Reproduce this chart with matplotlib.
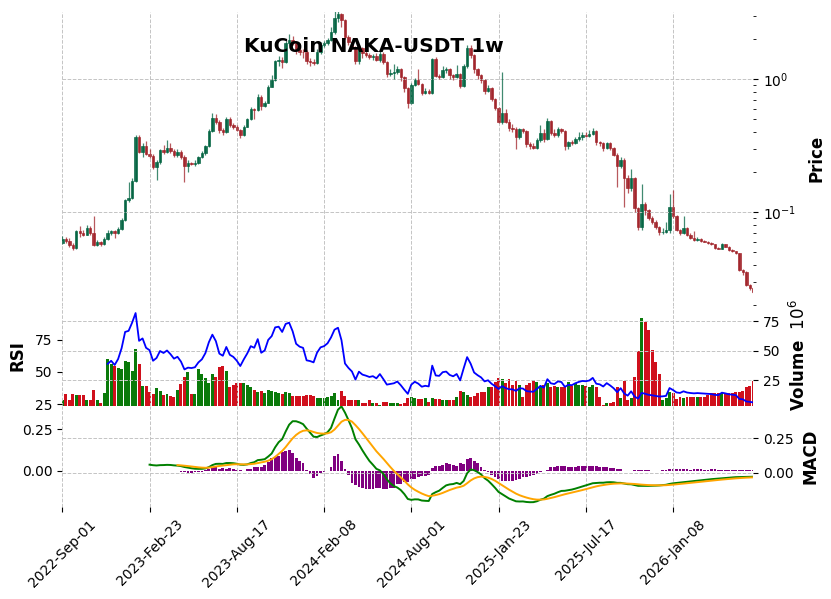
import numpy as np
import pandas as pd
import matplotlib
matplotlib.use("Agg")
from matplotlib import pyplot as plt
from matplotlib.ticker import LogLocator, NullFormatter

TITLE = "KuCoin NAKA-USDT 1w"
START = "2022-09-01"

# weekly candles (open of each week = previous close)
first_open = 0.0591
closes = [
    .0627, .0605, .0568, .0537, .0723, .0696, .0679, .0765, .0696, .0568,
    .0595, .0578, .0627, .0696, .0723, .0696, .0749, .0875, .124, .128,
    .172, .370, .285, .312, .275, .265, .217, .237, .294, .285,
    .306, .290, .270, .283, .262, .224, .234, .232, .236, .261,
    .278, .316, .409, .509, .480, .416, .404, .500, .453, .440,
    .416, .381, .440, .503, .598, .588, .732, .630, .667, .880,
    .988, 1.36, 1.40, 1.345, 1.86, 1.98, 1.86, 1.66, 1.61, 1.59,
    1.36, 1.345, 1.32, 1.61, 1.81, 1.86, 1.98, 2.28, 2.87, 3.07,
    2.79, 2.07, 1.89, 1.74, 1.36, 1.71, 1.57, 1.52, 1.46, 1.49,
    1.40, 1.55, 1.345, 1.10, 1.12, 1.14, 1.19, 1.045, .855, .661,
    .906, .988, .917, .794, .817, .794, 1.41, 1.06, 1.045, 1.17,
    1.19, 1.08, 1.035, 1.10, .895, 1.26, 1.73, 1.52, 1.19, 1.08,
    .988, .820, .855, .710, .605, .480, .555, .480, .427, .425,
    .365, .420, .409, .327, .312, .306, .350, .397, .355, .488,
    .397, .381, .420, .409, .312, .338, .332, .355, .370, .381,
    .377, .384, .409, .338, .330, .303, .330, .303, .270, .221,
    .249, .182, .151, .180, .107, .0777, .115, .104, .0902, .0850,
    .0777, .0706, .0716, .0736, .109, .0932, .0736, .0696, .0760, .0675,
    .0640, .0619, .0627, .0612, .0602, .0586, .0576, .0538, .0532, .0578,
    .0552, .0521, .0507, .0493, .0368, .0357, .0284, .0271, .0252,
]
highs = [
    .0664, .0650, .0640, .0590, .0740, .0790, .0730, .0800, .0790, .0944,
    .0620, .0610, .0650, .0740, .0740, .0740, .0770, .0900, .126, .169,
    .180, .381, .381, .330, .345, .300, .275, .245, .300, .320,
    .350, .330, .300, .300, .295, .270, .245, .240, .245, .265,
    .290, .320, .420, .560, .550, .490, .430, .520, .520, .465,
    .450, .425, .450, .510, .620, .610, .780, .760, .680, .900,
    1.08, 1.39, 1.50, 1.47, 1.95, 2.19, 2.10, 1.95, 1.75, 1.70,
    1.65, 1.45, 1.42, 1.70, 1.90, 1.95, 2.05, 2.45, 3.30, 3.25,
    3.17, 2.85, 2.15, 1.95, 1.78, 1.80, 1.75, 1.62, 1.58, 1.55,
    1.58, 1.62, 1.60, 1.36, 1.20, 1.30, 1.25, 1.22, 1.06, .870,
    .940, 1.02, 1.19, .930, .860, .850, 1.45, 1.48, 1.10, 1.25,
    1.24, 1.22, 1.10, 1.28, 1.12, 1.30, 1.80, 1.80, 1.55, 1.22,
    1.10, 1.00, .900, .870, .720, .620, 1.14, .600, .500, .460,
    .440, .430, .430, .415, .340, .330, .360, .450, .420, .510,
    .490, .420, .440, .430, .415, .345, .350, .370, .400, .400,
    .400, .415, .430, .415, .345, .340, .340, .340, .310, .280,
    .260, .255, .190, .210, .185, .110, .163, .120, .106, .0930,
    .0870, .0790, .0760, .0850, .138, .146, .0950, .0750, .0935, .0780,
    .0700, .0720, .0650, .0640, .0620, .0610, .0595, .0580, .0545, .0585,
    .0580, .0555, .0525, .0515, .0495, .0375, .0360, .0290, .0275,
]
lows = [
    .0578, .0590, .0550, .0520, .0530, .0650, .0660, .0670, .0680, .0555,
    .0560, .0560, .0570, .0620, .0680, .0640, .0690, .0740, .0860, .120,
    .126, .170, .280, .260, .270, .255, .210, .175, .230, .275,
    .280, .280, .260, .262, .250, .170, .200, .226, .222, .230,
    .255, .270, .310, .400, .460, .395, .380, .395, .440, .420,
    .405, .360, .375, .435, .490, .500, .580, .590, .620, .660,
    .870, .975, 1.25, 1.21, 1.33, 1.80, 1.80, 1.55, 1.52, 1.45,
    1.30, 1.25, 1.28, 1.30, 1.55, 1.75, 1.80, 1.95, 2.20, 2.70,
    2.45, 2.00, 1.80, 1.70, 1.30, 1.30, 1.45, 1.48, 1.42, 1.40,
    1.36, 1.35, 1.30, 1.03, 1.05, 1.00, 1.10, .970, .800, .610,
    .650, .890, .900, .760, .770, .770, .780, 1.03, 1.00, 1.02,
    1.12, 1.00, .980, 1.02, .860, .880, 1.22, 1.45, 1.12, 1.00,
    .930, .780, .800, .680, .590, .470, .460, .465, .410, .400,
    .300, .355, .395, .310, .300, .300, .300, .340, .340, .350,
    .380, .370, .370, .395, .295, .300, .320, .325, .345, .350,
    .370, .370, .380, .320, .315, .290, .300, .295, .265, .156,
    .215, .110, .140, .145, .100, .0740, .0736, .0950, .0870, .0820,
    .0750, .0680, .0690, .0700, .0698, .0900, .0720, .0680, .0690, .0660,
    .0630, .0610, .0610, .0600, .0595, .0580, .0570, .0530, .0525, .0525,
    .0545, .0515, .0500, .0485, .0360, .0340, .0280, .0262, .0245,
]
# volume in millions
volumes = [
    8.3, 13, 8, 13, 12.3, 12.3, 12.3, 8.3, 8.3, 17,
    8.3, 5.4, 14, 43, 39, 37, 35, 34, 41, 40,
    33, 51.4, 39, 20.2, 20.2, 15.3, 13, 18, 15.9, 12.3,
    13, 11.5, 10.6, 17, 21.4, 27.4, 32, 13, 13, 34,
    29.8, 27, 22.7, 30.6, 27.4, 36.3, 37, 33, 19, 20.8,
    22.2, 22.2, 22.2, 20.8, 19, 17, 15.3, 16, 14.4, 16.5,
    16, 15.3, 14, 13.4, 15.3, 14.4, 11.8, 11.8, 11.8, 11.8,
    12.3, 12.3, 11.5, 9.5, 9.5, 9.5, 10.8, 11.5, 14.4, 8.3,
    16, 11.5, 8.3, 8.3, 8, 8, 5.6, 5.6, 8.3, 5.4,
    5.4, 4.2, 6.8, 6.8, 5.4, 5.6, 5.4, 4.9, 5.4, 9.5,
    10.3, 9.5, 8.6, 8.6, 9.5, 6.8, 9.5, 9.0, 9.0, 8.1,
    8.1, 8.1, 8.1, 10.3, 16, 15.3, 12.3, 10.8, 11.5, 14.4,
    15.3, 15.3, 19, 19, 23, 26.7, 26.2, 22.2, 25.6, 20.8,
    24.2, 20.8, 10.3, 20.8, 22.7, 25, 23.3, 19, 20.8, 22.2,
    19, 20.2, 19.5, 19.5, 19.5, 23.3, 20.2, 22.2, 20.8, 20.8,
    20.2, 19.5, 20.8, 19.5, 10.8, 3.9, 5.4, 6, 6.8, 19,
    9.5, 24.2, 8.3, 9.5, 27.4, 49.5, 78, 74.3, 67.8, 50.3,
    40.5, 30.6, 8, 9.5, 15.3, 14.4, 8.6, 10.8, 9.5, 10.3,
    10.3, 10.8, 10.3, 10.3, 10.8, 12.3, 13.7, 13.7, 14.4, 14.4,
    14.4, 14.4, 14.4, 15.3, 15.3, 16, 19.5, 20.2, 24,
]
# MACD histogram bars, first bar on week 33
hist_start = 33
macd_hist = [
    -0.004, -0.006, -0.008, -0.012, -0.012, -0.010, -0.010, -0.006, 0.004, 0.012,
    0.024, 0.020, 0.012, 0.014, 0.008, 0.014, 0.010, 0.006, 0.002, 0.001,
    0.008, 0.010, 0.022, 0.024, 0.020, 0.034, 0.050, 0.076, 0.084, 0.090,
    0.114, 0.120, 0.126, 0.106, 0.076, 0.060, 0.044, 0.006, -0.018, -0.044,
    -0.030, -0.012, -0.006, 0.0, 0.024, 0.090, 0.104, 0.060, 0.010, -0.024,
    -0.076, -0.084, -0.096, -0.104, -0.110, -0.110, -0.110, -0.104, -0.106, -0.110,
    -0.110, -0.104, -0.104, -0.080, -0.080, -0.070, -0.070, -0.050, -0.050, -0.040,
    -0.030, -0.030, -0.024, 0.014, 0.026, 0.030, 0.036, 0.044, 0.040, 0.036,
    0.030, 0.044, 0.040, 0.070, 0.076, 0.060, 0.044, 0.020, 0.002, -0.010,
    -0.024, -0.040, -0.050, -0.060, -0.060, -0.064, -0.060, -0.056, -0.050, -0.040,
    -0.036, -0.030, -0.024, -0.020, -0.010, 0.0, 0.006, 0.020, 0.024, 0.026,
    0.030, 0.026, 0.024, 0.024, 0.024, 0.026, 0.030, 0.030, 0.030, 0.026,
    0.026, 0.024, 0.020, 0.020, 0.016, 0.014, 0.010, 0.008, 0.0, 0.0,
    0.0, 0.004, 0.004, 0.004, 0.004, 0.004, 0.0, 0.0, 0.0,
    0.006, 0.006, 0.008, 0.008, 0.008, 0.008, 0.008, 0.008, 0.006, 0.008,
    0.008, 0.008, 0.006, 0.006, 0.008, 0.008, 0.006, 0.006, 0.006, 0.006,
    0.006, 0.006, 0.006, 0.006, 0.004, 0.006, 0.004,
]

n = len(closes)
x = np.arange(n)
dates = pd.date_range(START, periods=n, freq="7D")
o = np.array([first_open] + closes[:-1])
c = np.array(closes)

# indicators (Wilder RSI 14, MACD 12/26/9)
cs = pd.Series(closes)
delta = cs.diff().fillna(0)
gain = delta.clip(lower=0).ewm(alpha=1 / 14, adjust=False, min_periods=14).mean()
loss = (-delta.clip(upper=0)).ewm(alpha=1 / 14, adjust=False, min_periods=14).mean()
rsi = 100 - 100 / (1 + gain / loss)

ema12 = cs.ewm(span=12, adjust=False, min_periods=26).mean()
ema26 = cs.ewm(span=26, adjust=False, min_periods=26).mean()
macd = ema12 - ema26
signal = macd.ewm(span=9, adjust=False, min_periods=9).mean()

W, H = 831, 599
fig = plt.figure(figsize=(W / 100, H / 100), dpi=100)

def box(top, bottom):
    return [62.3 / W, 1 - bottom / H, 691 / W, (bottom - top) / H]

ax_p = fig.add_axes(box(12, 305.5))
ax_v = fig.add_axes(box(305.5, 405.5), sharex=ax_p)
ax_m = fig.add_axes(box(405.5, 507.3), sharex=ax_p)

grid_kw = dict(linestyle="--", color="#c4c4c4", linewidth=0.7)

# price
up = c >= o
ccol = np.where(up, "#006340", "#a02128")
ax_p.vlines(x, lows, highs, colors=ccol, linewidth=0.9, alpha=0.75)
ax_p.bar(x, np.abs(c - o), bottom=np.minimum(o, c), width=0.7, color=ccol,
         edgecolor=ccol, linewidth=0.5, alpha=0.9)
ax_p.set_yscale("log")
ax_p.set_ylim(0.0199, 3.2)
ax_p.yaxis.tick_right()
ax_p.yaxis.set_minor_locator(LogLocator(base=10, subs=np.arange(2, 10)))
ax_p.yaxis.set_minor_formatter(NullFormatter())
ax_p.yaxis.set_label_position("right")
ax_p.set_ylabel("Price", fontsize=12, fontweight="bold", labelpad=8)
ax_p.grid(True, which="major", **grid_kw)
ax_p.tick_params(axis="x", bottom=False, labelbottom=False)

# volume + RSI
ax_r = ax_v.twinx()
vcol = np.where(up, "#0a7a0a", "#d0101c")
ax_v.bar(x, volumes, width=0.85, color=vcol)
ax_v.set_ylim(3.5, 88.2)
ax_v.set_yticks([25, 50, 75])
ax_v.yaxis.tick_right()
ax_v.yaxis.set_label_position("right")
ax_v.set_ylabel("Volume  $10^{6}$", fontsize=12, fontweight="bold", labelpad=6)
ax_v.grid(True, **grid_kw)
ax_v.tick_params(axis="x", bottom=False, labelbottom=False)

ax_r.plot(x, rsi, color="blue", linewidth=1.3)
ax_r.set_ylim(24.1, 101.4)
ax_r.set_yticks([25, 50, 75])
ax_r.yaxis.tick_left()
ax_r.yaxis.set_label_position("left")
ax_r.set_ylabel("RSI", fontsize=12, fontweight="bold", labelpad=6)

# MACD
ax_h = ax_m.twinx()
hx = np.arange(hist_start, hist_start + len(macd_hist))
ax_h.bar(hx, macd_hist, width=0.8, color="purple")
ax_h.set_ylim(-0.221, 0.394)
ax_h.set_yticks([0, 0.25])
ax_h.set_yticklabels(["0.00", "0.25"])
ax_h.yaxis.tick_left()
ax_h.set_zorder(ax_m.get_zorder() - 1)
ax_m.patch.set_visible(False)

ax_m.plot(x, macd, color="green", linewidth=1.4)
ax_m.plot(x, signal, color="orange", linewidth=1.4)
ax_m.set_ylim(-0.251, 0.488)
ax_m.set_yticks([0, 0.25])
ax_m.set_yticklabels(["0.00", "0.25"])
ax_m.yaxis.tick_right()
ax_m.yaxis.set_label_position("right")
ax_m.set_ylabel("MACD", fontsize=12, fontweight="bold", labelpad=6)
ax_m.grid(True, **grid_kw)

ticks = list(range(0, n, 25))
ax_m.set_xticks(ticks)
ax_m.set_xticklabels([dates[t].strftime("%Y-%b-%d") for t in ticks],
                     rotation=45, ha="center")
ax_m.set_xlim(0, n - 1)

for a in (ax_p, ax_v, ax_r, ax_m, ax_h):
    for s in a.spines.values():
        s.set_visible(False)
    a.tick_params(labelsize=10, length=3.5)

fig.text(374 / W, 1 - 47 / H, TITLE, ha="center", va="center",
         fontsize=14.5, fontweight="bold")

fig.savefig("out.png", dpi=100)
